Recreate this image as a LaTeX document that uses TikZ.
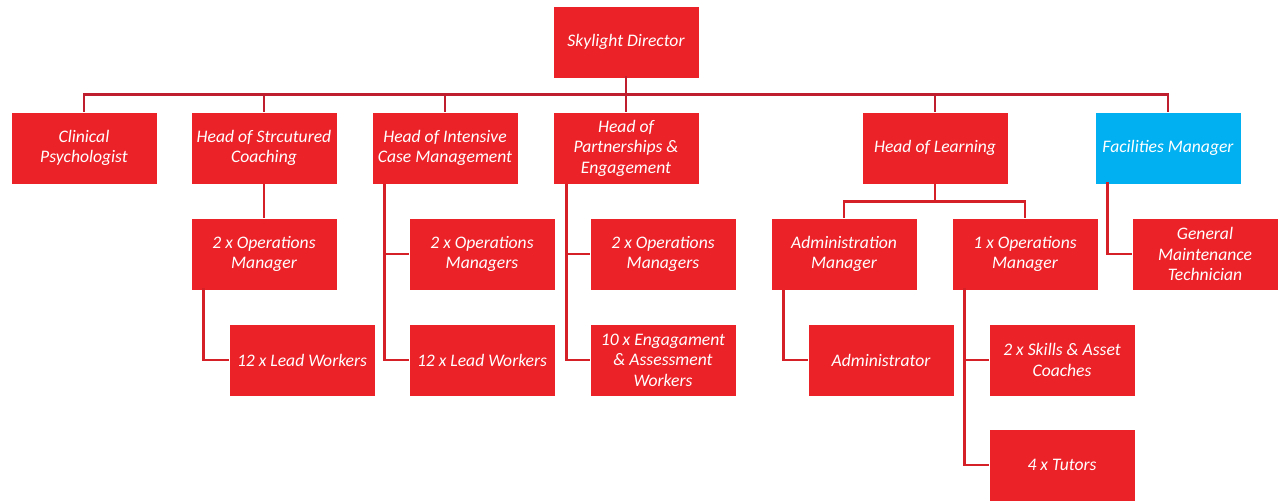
\documentclass[tikz,border=0pt]{standalone}
\usepackage{fontspec}
\setmainfont{Carlito}
\definecolor{boxred}{RGB}{236,34,41}
\definecolor{busred}{RGB}{190,30,45}
\definecolor{linkred}{RGB}{214,32,40}
\definecolor{facblue}{RGB}{0,176,240}
\begin{document}
\begin{tikzpicture}[x=1pt, y=-1pt,
  box/.style={fill=boxred, draw=white, line width=0.6pt, minimum width=146pt,
    minimum height=72pt, inner sep=1pt, align=center, text=white,
    font=\fontsize{17.6}{20.5}\selectfont\itshape},
  bluebox/.style={box, fill=facblue},
  bus/.style={draw=busred, line width=2.8pt},
  link/.style={draw=linkred, line width=2.8pt}]
  \useasboundingbox (0,0) rectangle (1281,501);

  % top
  \node[box] (dir) at (626,42) {Skylight Director};

  % heads
  \node[box] (clin) at (84,148) {Clinical\\Psychologist};
  \node[box] (hsc) at (264,148) {Head of Strcutured\\Coaching};
  \node[box] (hicm) at (445,148) {Head of Intensive\\Case Management};
  \node[box] (hpe) at (626,148) {Head of\\Partnerships \&\\Engagement};
  \node[box] (hol) at (935,148) {Head of Learning};
  \node[bluebox] (fac) at (1168,148) {Facilities Manager};

  % second row
  \node[box] (opsA) at (264,254) {2 x Operations\\Manager};
  \node[box] (opsB) at (482,254) {2 x Operations\\Managers};
  \node[box] (opsC) at (663,254) {2 x Operations\\Managers};
  \node[box] (admMgr) at (844,254) {Administration\\Manager};
  \node[box] (opsD) at (1025,254) {1 x Operations\\Manager};
  \node[box] (gmt) at (1205,254) {General\\Maintenance\\Technician};

  % third row
  \node[box] (leadA) at (302,360) {12 x Lead Workers};
  \node[box] (leadB) at (482,360) {12 x Lead Workers};
  \node[box] (engage) at (663,360) {10 x Engagament\\\& Assessment\\Workers};
  \node[box] (admin) at (881,360) {Administrator};
  \node[box] (skills) at (1062,360) {2 x Skills \& Asset\\Coaches};
  \node[box] (tutors) at (1062,465) {4 x Tutors};

  % director bus
  \draw[bus] ([yshift=2pt]dir.south) -- ++(0,28);
  \draw[bus] (clin.north) -- ++(0,-17) -| (fac.north);
  \foreach \n in {hsc,hicm,hpe,hol}
    \draw[bus] (\n.north) -- ++(0,-17);

  % structured coaching
  \draw[link] (hsc.south) -- (opsA.north);
  \draw[link] ([xshift=13pt,yshift=2pt]opsA.south west) |- (leadA.west);

  % intensive case management
  \draw[link] ([xshift=13pt]hicm.south west) |- (leadB.west);
  \draw[link] ([xshift=13pt]hicm.south west) |- (opsB.west);

  % partnerships
  \draw[link] ([xshift=14pt]hpe.south west) |- (engage.west);
  \draw[link] ([xshift=14pt]hpe.south west) |- (opsC.west);

  % learning
  \draw[link] (hol.south) -- ++(0,17) -| (admMgr.north);
  \draw[link] (hol.south) -- ++(0,17) -| (opsD.north);
  \draw[link] ([xshift=13pt]admMgr.south west) |- (admin.west);
  \draw[link] ([xshift=13pt,yshift=2pt]opsD.south west) |- (tutors.west);
  \draw[link] ([xshift=13pt]opsD.south west) |- (skills.west);

  % facilities
  \draw[link] ([xshift=13pt,yshift=2pt]fac.south west) |- (gmt.west);
\end{tikzpicture}
\end{document}
